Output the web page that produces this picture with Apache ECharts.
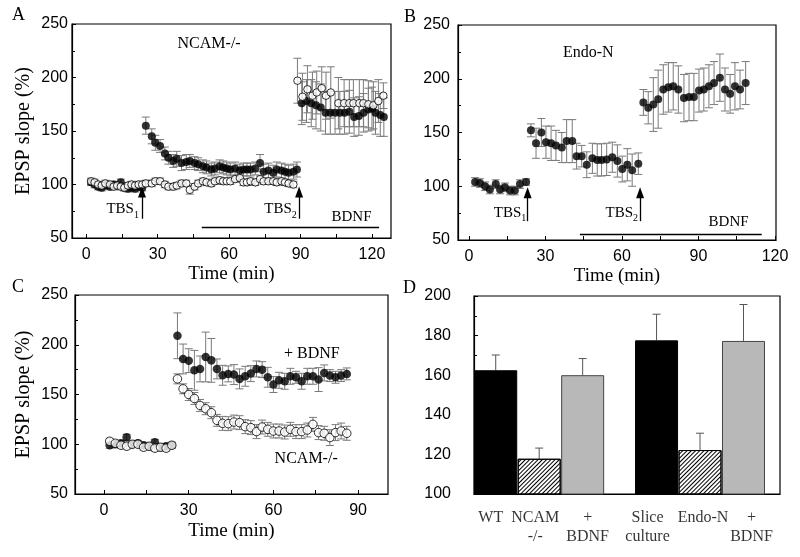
<!DOCTYPE html>
<html><head><meta charset="utf-8">
<script src="https://cdn.jsdelivr.net/npm/echarts@6/dist/echarts.min.js"></script>
<style>html,body{margin:0;padding:0;background:#fff}#c{width:800px;height:557px}</style>
</head><body><div id="c"></div>
<script>
// ---------------- DATA ----------------
// Panel A (NCAM-/-): filled = TBS1 then TBS2+BDNF; open = BDNF then TBS2
const aBaseTime = [2,3.5,5,6.5,8,10,11.5,13,14.5,16,17.5,19,20.5,22,23.5];
const aFilledBase = [102,100,98,97,99,98,100,99,102,97,96,97,96,98,97];
const aOpenBase = [103,102,100,99,101,100,98,99,98,97,99,100,99,100,100];
const aBaseErr = [3,3,3,3,3,3,3,3,3,3,3,3,3,3,3];
const aPost1Time = [25,27.5,29,31,33,34.5,36.5,38,40,42,43.5,45.5,47,49,50.5,52.5,54,56,57.5,59,60.5,62.5,64.5,66,67.5,69,71,73,74.5,76.5,78.5,80,82,83.5,85,87,88.5];
const aFilledPost1 = [155,145,139,136,129,125,122,124,120,121,122,120,119,117,116,114,115,117,116,115,114,115,113,114,114,114,115,120,112,113,111,114,113,112,111,112,114];
const aFilledPost1Err = [8,7,7,6,6,6,6,7,7,7,6,6,6,6,6,6,6,6,6,6,6,6,6,6,6,6,6,8,7,7,7,7,7,7,7,7,7];
const aOpenPost1 = [101,101,103,103,100,98,98,99,101,101,95,98,101,103,102,101,103,104,103,103,103,105,106,102,102,103,102,105,103,103,103,102,103,102,101,100];
const aOpenPost1Err = [3,3,3,3,3,3,3,3,3,3,4,3,3,3,3,3,3,3,3,3,3,3,3,3,3,3,3,3,3,3,3,3,3,3,3,3];
const aFilledPost2Time = [90.5,92.5,94.5,96.5,98.5,100.5,102.5,104.5,106.5,108.5,110.5,112.5,114.5,116.5,118.5,120,121.5,123.5,125];
const aFilledPost2 = [176,178,176,174,172,167,167,167,167,167,168,163,164,167,170,171,167,165,163];
const aFilledPost2Err = [20,20,22,22,22,20,20,20,20,20,20,18,18,18,20,20,20,20,18];
const aOpenPost2Time = [88.7,90.8,92.9,95,96.8,98.9,100.7,102.7,105.9,108.3,110.5,112.2,114.7,116.4,118.5,120.6,122.7,124.8];
const aOpenPost2 = [197,182,189,183,186,190,183,186,176,176,176,176,176,176,175,174,178,183];
const aOpenPost2Err = [21,22,22,22,20,20,22,24,24,22,22,22,22,22,22,22,20,12];

// Panel B (Endo-N)
const bBaseTime = [2.4,4.3,6.3,8.2,10.5,12.2,14.1,16.1,18,20,22.4];
const bBase = [104,103,100,97,102,97,99,96,96,102,104];
const bBaseErr = [4,4,4,4,4,4,4,4,4,4,3];
const bPost1Time = [24.3,26.3,28.4,30.2,32.2,34.1,36.4,38.3,40.5,42.2,44.2,46.2,48.4,50.3,52,54,56.2,58.2,60.1,62.1,64,66.4];
const bPost1 = [152,140,150,141,140,138,136,142,142,128,128,120,126,124.5,124.5,125,127,123.5,116,120,115,121];
const bPost1Err = [6,14,13,15,16,14,14,20,20,12,10,12,14,15,15,15,14,15,12,15,15,10];
const bPost2Time = [68.4,70.3,72.3,74.2,76.2,78.2,80.1,82.1,84.3,86.3,88.2,90.2,92.1,94.1,96.1,98.4,100.4,102.4,104.3,106.3,108.5];
const bPost2 = [178,173,176,181,190,192,193,190,182,183,183,189,190,193,196,201,190,186,193,190,196];
const bPost2Err = [12,15,25,27,23,23,22,22,22,22,22,20,20,20,20,22,20,18,22,18,20];

// Panel C
const cBaseTime = [2,4,6,8,10,12,14,16,18,20,22,24];
const cFilledBase = [99,100,101,107,100,101,99,98,102,97,98,99];
const cOpenBase = [103,101,99,98,100,100,97,98,96,97,96,99];
const cBaseErr = [3,3,3,3,3,3,3,3,3,3,3,3];
const cPostTime = [26,28,30,32,34,36,38,40,42,44,46,48,50,52,54,56,58,60,62,64,66,68,70,72,74,76,78,80,82,84,86];
const cFilledPost = [209,185.7,184,174.3,175.7,187.7,184.3,175.7,169.3,170.7,170,165.7,168.3,171,175.7,175,167.3,160,164.3,163.3,168.3,167.3,163.3,168.3,168.3,165,171.7,169,167.3,169,170.7];
const cFilledPostErr = [23,15,12,20,13,25,22,10,10,8,10,10,10,8,8,8,10,8,8,8,8,6,8,8,8,12,8,6,6,6,6];
const cOpenPost = [165.7,155.7,150,146,139,135.7,131.7,124,121,120.7,122.3,121.7,117.7,116.7,112.7,117.3,115,113.3,113.3,112.3,115,112.7,112.7,114.3,120,111.7,111,106.7,111.7,113.3,111];
const cOpenPostErr = [5,5,6,6,6,6,6,6,7,7,7,7,7,7,7,7,7,7,7,7,7,7,7,7,7,7,7,8,8,8,7];

// Panel D
const dCategories = ['WT','NCAM\n-/-','+\nBDNF','Slice\nculture','Endo-N','+\nBDNF'];
const dValues = [162.5,117.8,160,177.6,122.2,177.3];
const dErrors = [7.7,5.4,8.4,13.2,8.5,18.4];

// tick labels
const aXLabels = [0,30,60,90,120];
const bXLabels = [0,30,60,90,120];
const cXLabels = [0,30,60,90];

// ---------------- CHART ----------------
const SERIF = 'Liberation Serif';
const SANS = 'Liberation Sans';
const chart = echarts.init(document.getElementById('c'));

function zip(t, v, e) { return t.map((x, i) => [x, v[i], e[i]]); }
function minorOf(labels, step) {
  const out = [];
  labels.forEach(v => { out.push(v); out.push(v + step / 2); });
  return out;
}

const grids = [
  {left: 72, top: 24, width: 319, height: 214},
  {left: 458, top: 25, width: 318, height: 215},
  {left: 75, top: 295, width: 313, height: 199},
  {left: 474, top: 296, width: 306, height: 198}
].map(g => Object.assign({show: true, borderColor: '#000', borderWidth: 1.2}, g));

function timeAxis(idx, min, max, labels, nameGap) {
  return {
    type: 'value', gridIndex: idx, min: min, max: max,
    axisLine: {show: true, onZero: false, lineStyle: {color: '#000', width: 1.2}},
    axisTick: {show: true, inside: true, length: 4, customValues: minorOf(labels, 30).filter(v => v <= max), lineStyle: {color: '#000'}},
    axisLabel: {customValues: labels, color: '#000', fontFamily: SANS, fontSize: 16, margin: 9},
    splitLine: {show: false},
    name: 'Time (min)', nameLocation: 'middle', nameGap: nameGap,
    nameTextStyle: {fontFamily: SERIF, fontSize: 19, fontWeight: 'normal', color: '#000'}
  };
}
function pctAxis(idx, name, margin, nameGap) {
  return {
    type: 'value', gridIndex: idx, min: 50, max: 250, interval: 50,
    axisLine: {show: true, onZero: false, lineStyle: {color: '#000', width: 1.2}},
    axisTick: {show: true, inside: true, length: 4, lineStyle: {color: '#000'}},
    minorTick: {show: true, splitNumber: 2, length: 3, lineStyle: {color: '#000'}},
    axisLabel: {color: '#000', fontFamily: SANS, fontSize: 16, margin: margin},
    splitLine: {show: false},
    name: name, nameLocation: 'middle', nameGap: nameGap,
    nameTextStyle: {fontFamily: SERIF, fontSize: 20, fontWeight: 'normal', color: '#000'}
  };
}

function errSeries(idx, data, oneSided) {
  return {
    type: 'custom', xAxisIndex: idx, yAxisIndex: idx, data: data, silent: true, animation: false, z: 1,
    renderItem: function (params, api) {
      const x = api.value(0), y = api.value(1), e = api.value(2);
      const top = api.coord([x, y + e]);
      const bot = api.coord([x, oneSided ? y : y - e]);
      const hw = 4;
      const st = {stroke: oneSided ? '#555' : '#7a7a7a', lineWidth: 1};
      const kids = [
        {type: 'line', shape: {x1: top[0], y1: top[1], x2: bot[0], y2: bot[1]}, style: st},
        {type: 'line', shape: {x1: top[0] - hw, y1: top[1], x2: top[0] + hw, y2: top[1]}, style: st}
      ];
      if (!oneSided) kids.push({type: 'line', shape: {x1: bot[0] - hw, y1: bot[1], x2: bot[0] + hw, y2: bot[1]}, style: st});
      return {type: 'group', children: kids};
    }
  };
}
function dots(idx, data, open, size, extra) {
  return Object.assign({
    type: 'scatter', xAxisIndex: idx, yAxisIndex: idx, silent: true, animation: false, z: open ? 4 : 3,
    data: data.map(d => [d[0], d[1]]), symbol: 'circle', symbolSize: size,
    itemStyle: open ? {color: '#fff', borderColor: '#000', borderWidth: 1} : {color: '#000'}
  }, extra || {});
}

const rich = {
  t: {fontFamily: SERIF, fontSize: 15, color: '#000'},
  s: {fontFamily: SERIF, fontSize: 10, color: '#000', verticalAlign: 'bottom', lineHeight: 22}
};
function textPt(coord, text, size) {
  return {coord: coord, label: {show: true, formatter: text, fontFamily: SERIF, fontSize: size || 15, color: '#000', rich: rich}};
}
function arrow(t, y1, y2) {
  return [{coord: [t, y1], symbol: 'none'}, {coord: [t, y2], symbol: 'triangle', symbolSize: [8, 11]}];
}
function hline(t1, t2, y) {
  return [{coord: [t1, y], symbol: 'none'}, {coord: [t2, y], symbol: 'none'}];
}
const markBase = {
  mp: {silent: true, animation: false, symbol: 'circle', symbolSize: 0, label: {show: true, position: 'inside'}},
  ml: {silent: true, animation: false, label: {show: false}, lineStyle: {color: '#000', width: 1.3, type: 'solid'}}
};

// Panel A
const aFilled = zip(aBaseTime, aFilledBase, aBaseErr).concat(zip(aPost1Time, aFilledPost1, aFilledPost1Err), zip(aFilledPost2Time, aFilledPost2, aFilledPost2Err));
const aOpen = zip(aBaseTime, aOpenBase, aBaseErr).concat(zip(aPost1Time.slice(0, aOpenPost1.length), aOpenPost1, aOpenPost1Err), zip(aOpenPost2Time, aOpenPost2, aOpenPost2Err));
// Panel B
const bFilled = zip(bBaseTime, bBase, bBaseErr).concat(zip(bPost1Time, bPost1, bPost1Err), zip(bPost2Time, bPost2, bPost2Err));
// Panel C
const cFilled = zip(cBaseTime, cFilledBase, cBaseErr).concat(zip(cPostTime, cFilledPost, cFilledPostErr));
const cOpen = zip(cBaseTime, cOpenBase, cBaseErr).concat(zip(cPostTime, cOpenPost, cOpenPostErr));

// Panel D layout (group gap between the two triplets, small label nudges)
const groupGap = 0.7;
const dPos = dCategories.map((c, i) => i + 0.5 + (i >= 3 ? groupGap : 0));
const dLabelNudge = [-5, -4, 5, -9, 3, 8];
const dStyles = [
  {color: '#000', borderColor: '#000', borderWidth: 1},
  {color: '#fff', borderColor: '#000', borderWidth: 1, decal: {symbol: 'rect', symbolSize: 1, color: '#000', dashArrayX: [1, 0], dashArrayY: [1, 2], rotation: -Math.PI / 4}},
  {color: '#b8b8b8', borderColor: '#444', borderWidth: 1}
];

const series = [
  errSeries(0, aFilled, false),
  errSeries(0, aOpen, false),
  dots(0, aFilled, false, 8, {
    markLine: Object.assign({}, markBase.ml, {data: [arrow(23.4, 68, 93), arrow(89.4, 68, 93), hline(48.5, 123, 59.8)]}),
    markPoint: Object.assign({}, markBase.mp, {data: [
      textPt([51.6, 231.5], 'NCAM-/-', 16),
      textPt([15.3, 77], '{t|TBS}{s|1}'),
      textPt([81.6, 77], '{t|TBS}{s|2}'),
      textPt([111.4, 69.5], 'BDNF')
    ]})
  }),
  dots(0, aOpen, true, 7.5),

  errSeries(1, bFilled, false),
  dots(1, bFilled, false, 8, {
    markLine: Object.assign({}, markBase.ml, {data: [arrow(23.0, 67.5, 94), arrow(67.1, 67.5, 94), hline(43.5, 114.8, 55.3)]}),
    markPoint: Object.assign({}, markBase.mp, {data: [
      textPt([46.8, 224.5], 'Endo-N', 16),
      textPt([16.1, 75.5], '{t|TBS}{s|1}'),
      textPt([59.9, 75.5], '{t|TBS}{s|2}'),
      textPt([101.8, 66.5], 'BDNF')
    ]})
  }),

  errSeries(2, cFilled, false),
  errSeries(2, cOpen, false),
  dots(2, cFilled, false, 8.5, {
    markPoint: Object.assign({}, markBase.mp, {data: [
      textPt([73.6, 191], '+ BDNF', 16),
      textPt([71.6, 85], 'NCAM-/-', 16)
    ]})
  }),
  dots(2, cOpen, true, 8.5),

  {
    type: 'bar', xAxisIndex: 3, yAxisIndex: 3, barWidth: 43, silent: true, animation: false, z: 2,
    data: dValues.map((v, i) => ({value: [dPos[i], v], itemStyle: dStyles[i % 3]}))
  },
  errSeries(3, dValues.map((v, i) => [dPos[i], v, dErrors[i]]), true),
  {
    type: 'scatter', xAxisIndex: 3, yAxisIndex: 3, silent: true, animation: false, clip: false,
    symbolSize: 1, itemStyle: {color: 'rgba(0,0,0,0)'},
    data: dCategories.map((c, i) => ({value: [dPos[i], 100], label: {formatter: c, offset: [dLabelNudge[i], 0]}})),
    label: {show: true, position: 'bottom', distance: 14, color: '#000', fontFamily: SERIF, fontSize: 16, lineHeight: 19, align: 'center'}
  }
];

const option = {
  backgroundColor: '#fff',
  animation: false,
  grid: grids,
  xAxis: [
    timeAxis(0, -6, 128, aXLabels, 27),
    timeAxis(1, -4.3, 120.4, bXLabels, 27),
    timeAxis(2, -10.3, 100.6, cXLabels, 28),
    {type: 'value', gridIndex: 3, min: 0, max: 7.04, axisLine: {show: true, onZero: false, lineStyle: {color: '#000', width: 1.2}},
      axisTick: {show: false}, axisLabel: {show: false}, splitLine: {show: false}}
  ],
  yAxis: [
    pctAxis(0, 'EPSP slope (%)', 4, 38),
    pctAxis(1, '', 8, 40),
    pctAxis(2, 'EPSP slope (%)', 7, 41),
    {type: 'value', gridIndex: 3, min: 100, max: 200, interval: 20,
      axisLine: {show: true, onZero: false, lineStyle: {color: '#000', width: 1.2}},
      axisTick: {show: true, inside: true, length: 4, lineStyle: {color: '#000'}},
      minorTick: {show: true, splitNumber: 2, length: 3, lineStyle: {color: '#000'}},
      axisLabel: {color: '#000', fontFamily: SANS, fontSize: 16, margin: 23},
      splitLine: {show: false}}
  ],
  graphic: [
    {type: 'text', left: 12, top: 6, style: {text: 'A', font: '18px "Liberation Serif"', fill: '#000'}},
    {type: 'text', left: 404, top: 8, style: {text: 'B', font: '18px "Liberation Serif"', fill: '#000'}},
    {type: 'text', left: 12, top: 278, style: {text: 'C', font: '18px "Liberation Serif"', fill: '#000'}},
    {type: 'text', left: 403, top: 279, style: {text: 'D', font: '18px "Liberation Serif"', fill: '#000'}}
  ],
  series: series
};
chart.setOption(option);
</script></body></html>
